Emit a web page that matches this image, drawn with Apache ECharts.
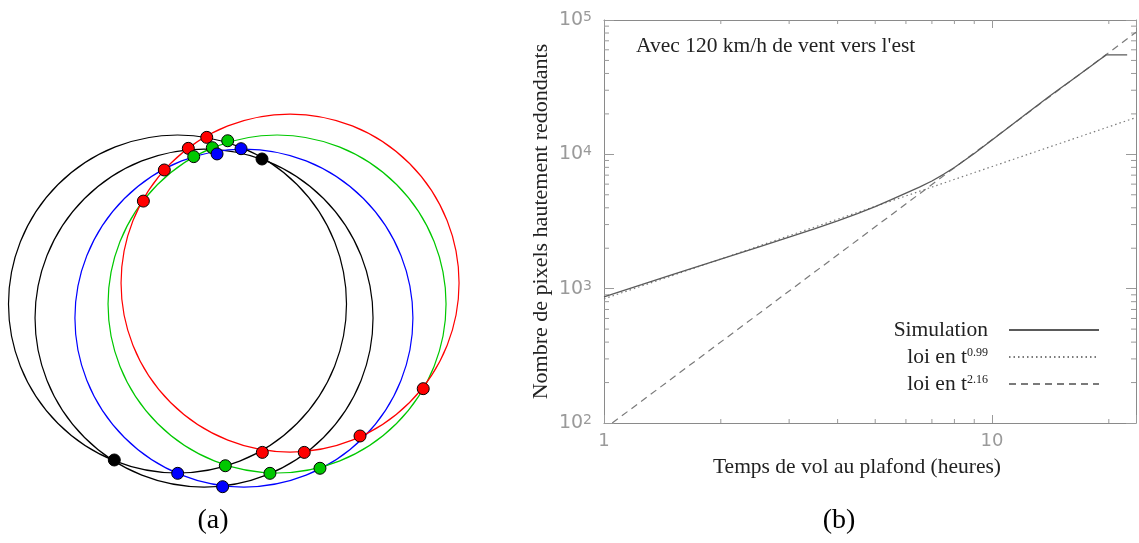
<!DOCTYPE html>
<html><head><meta charset="utf-8">
<script src="https://cdn.jsdelivr.net/npm/echarts@6/dist/echarts.min.js"></script>
<style>html,body{margin:0;padding:0;background:#fff}#c{width:1139px;height:543px}</style>
</head><body><div id="c"></div>
<script>
// ---------- Panel (a): circles (unit = circle radius) ----------
const circleCX = [0, 0.157, 0.393, 0.589, 0.666];
const circleCY = [0, -0.083, -0.083, 0, 0.124];
const circleR  = [1, 1, 1, 1, 1];
const circleColors = ['#000000', '#000000', '#0000ff', '#00c800', '#ff0000'];

const redDotsX   = [0.173, 0.064, -0.078, -0.202, 1.454, 1.080, 0.750, 0.502];
const redDotsY   = [0.986, 0.921, 0.793, 0.609, -0.501, -0.781, -0.878, -0.878];
const greenDotsX = [0.297, 0.206, 0.096, 0.283, 0.547, 0.843];
const greenDotsY = [0.966, 0.925, 0.872, -0.957, -1.002, -0.972];
const blueDotsX  = [0.234, 0.376, 0.001, 0.267];
const blueDotsY  = [0.888, 0.919, -1.002, -1.081];
const blackDotsX = [0.500, -0.374];
const blackDotsY = [0.858, -0.923];

// ---------- Panel (b): log-log curves ----------
const simTime   = [1, 1.25, 1.5, 2, 2.5, 3, 3.5, 4, 4.5, 5, 5.5, 6, 6.5, 7, 7.5, 8, 9, 10, 11, 12, 13, 14, 15, 16, 17, 18, 19, 19.7, 22.3];
const simPixels = [870, 1070, 1270, 1660, 2040, 2420, 2800, 3200, 3620, 4080, 4600, 5150, 5700, 6330, 7100, 7980, 10150, 12800, 15800, 19100, 22800, 26800, 31000, 35500, 40300, 45500, 51000, 55000, 55000];
const law099Time   = [1, 23.5];
const law099Pixels = [840, 18800];
const law216Time   = [1.05, 23.5];
const law216Pixels = [100, 81000];

const X_MIN = 1, X_MAX = 23.5, Y_MIN = 100, Y_MAX = 100000;
const xMinorTicks = [2, 3, 4, 5, 6, 7, 8, 9, 20];
const yMinorTicks = [200, 300, 400, 500, 600, 700, 800, 900, 2000, 3000, 4000, 5000, 6000, 7000, 8000, 9000, 20000, 30000, 40000, 50000, 60000, 70000, 80000, 90000];

const seriesNames = ['Simulation', 'loi en t^0.99', 'loi en t^2.16'];
const legendLabels = {'Simulation': 'Simulation', 'loi en t^0.99': 'loi en t{sup|0.99}', 'loi en t^2.16': 'loi en t{sup|2.16}'};

const zip = (a, b) => a.map((v, i) => [v, b[i]]);
const SERIF = '"Liberation Serif", "Times New Roman", serif';
const SANS = '"DejaVu Sans", sans-serif';
const TICK = '#9a9a9a';
const FRAME = '#8a8a8a';

function isDecade(v) { const l = Math.log10(v); return Math.abs(l - Math.round(l)) < 1e-6; }

const chart = echarts.init(document.getElementById('c'));
const dotSeries = (name, xs, ys, color) => ({
  type: 'scatter', name: name, xAxisIndex: 0, yAxisIndex: 0, data: zip(xs, ys),
  symbol: 'circle', symbolSize: 12, silent: true, z: 5,
  itemStyle: {color: color, borderColor: '#000', borderWidth: 1, opacity: 1}
});

chart.setOption({
  animation: false,
  grid: [
    {left: 8.5, top: 84.3, width: 473.2, height: 422.5},
    {left: 604, top: 20, width: 532, height: 403}
  ],
  xAxis: [
    {type: 'value', gridIndex: 0, min: -1, max: 1.8, show: false},
    {type: 'log', gridIndex: 1, min: X_MIN, max: X_MAX, position: 'bottom',
     axisLine: {show: true, lineStyle: {color: FRAME, width: 1}},
     axisTick: {show: true, inside: true, length: 8, lineStyle: {color: TICK}},
     splitLine: {show: false},
     axisLabel: {color: TICK, fontFamily: SANS, fontSize: 18, margin: 9,
                 formatter: v => isDecade(v) ? String(Math.round(v)) : ''},
     name: 'Temps de vol au plafond (heures)', nameLocation: 'middle', nameGap: 33,
     nameTextStyle: {fontFamily: SERIF, fontSize: 21.5, color: '#222', padding: [0, 26, 0, 0]}},
    {type: 'log', gridIndex: 1, min: X_MIN, max: X_MAX, position: 'top',
     axisLine: {show: true, lineStyle: {color: FRAME, width: 1}},
     axisTick: {show: true, inside: true, length: 8, lineStyle: {color: TICK}},
     splitLine: {show: false}, axisLabel: {show: false}}
  ],
  yAxis: [
    {type: 'value', gridIndex: 0, min: -1.2, max: 1.3, show: false},
    {type: 'log', gridIndex: 1, min: Y_MIN, max: Y_MAX, position: 'left',
     axisLine: {show: true, lineStyle: {color: FRAME, width: 1}},
     axisTick: {show: true, inside: true, length: 10, lineStyle: {color: TICK}},
     splitLine: {show: false},
     axisLabel: {color: TICK, fontFamily: SANS, fontSize: 19, margin: 12,
       formatter: v => isDecade(v) ? '10{sup|' + Math.round(Math.log10(v)) + '}' : '',
       rich: {sup: {color: TICK, fontFamily: SANS, fontSize: 14, lineHeight: 9, verticalAlign: 'top'}}},
     name: 'Nombre de pixels hautement redondants', nameLocation: 'middle', nameGap: 52,
     nameTextStyle: {fontFamily: SERIF, fontSize: 22, color: '#222'}},
    {type: 'log', gridIndex: 1, min: Y_MIN, max: Y_MAX, position: 'right',
     axisLine: {show: true, lineStyle: {color: FRAME, width: 1}},
     axisTick: {show: true, inside: true, length: 10, lineStyle: {color: TICK}},
     splitLine: {show: false}, axisLabel: {show: false}}
  ],
  legend: {
    data: seriesNames, orient: 'vertical', right: 39, top: 319, align: 'right', padding: 0,
    itemWidth: 90, itemHeight: 12, itemGap: 5, selectedMode: false,
    itemStyle: {opacity: 0, borderWidth: 0},
    formatter: name => legendLabels[name],
    textStyle: {fontFamily: SERIF, fontSize: 21.5, color: '#222', lineHeight: 21, padding: [0, 16, 0, 0],
      rich: {sup: {fontFamily: SERIF, fontSize: 12, color: '#222', lineHeight: 8, verticalAlign: 'top'}}}
  },
  graphic: [
    {type: 'text', x: 636, y: 46, silent: true,
     style: {text: "Avec 120 km/h de vent vers l'est", font: '21.5px ' + SERIF, fill: '#222', align: 'left', verticalAlign: 'middle'}},
    {type: 'text', x: 213, y: 521, silent: true,
     style: {text: '(a)', font: '28px ' + SERIF, fill: '#000', align: 'center', verticalAlign: 'middle'}},
    {type: 'text', x: 839, y: 521, silent: true,
     style: {text: '(b)', font: '28px ' + SERIF, fill: '#000', align: 'center', verticalAlign: 'middle'}}
  ],
  series: [
    {type: 'custom', name: 'cercles', xAxisIndex: 0, yAxisIndex: 0, silent: true, clip: false, z: 2,
     data: circleCX.map((cx, i) => [cx, circleCY[i], circleR[i]]),
     renderItem: (params, api) => {
       const c = api.coord([api.value(0), api.value(1)]);
       const r = api.size([api.value(2), api.value(2)])[0];
       return {type: 'circle', shape: {cx: c[0], cy: c[1], r: r},
               style: {fill: 'none', stroke: circleColors[params.dataIndex], lineWidth: 1.2}};
     }},
    dotSeries('rouge', redDotsX, redDotsY, '#ff0000'),
    dotSeries('vert', greenDotsX, greenDotsY, '#00c800'),
    dotSeries('bleu', blueDotsX, blueDotsY, '#0000ff'),
    dotSeries('noir', blackDotsX, blackDotsY, '#000000'),
    {type: 'line', name: seriesNames[0], xAxisIndex: 1, yAxisIndex: 1, data: zip(simTime, simPixels),
     showSymbol: false, symbol: 'none', smooth: false, z: 4,
     lineStyle: {color: '#5a5a5a', width: 1.3, type: 'solid'}, itemStyle: {color: '#5a5a5a'}},
    {type: 'line', name: seriesNames[1], xAxisIndex: 1, yAxisIndex: 1, data: zip(law099Time, law099Pixels),
     showSymbol: false, symbol: 'none', z: 3,
     lineStyle: {color: '#7a7a7a', width: 1.2, type: [1.5, 3]}, itemStyle: {color: '#7a7a7a'}},
    {type: 'line', name: seriesNames[2], xAxisIndex: 1, yAxisIndex: 1, data: zip(law216Time, law216Pixels),
     showSymbol: false, symbol: 'none', z: 3,
     lineStyle: {color: '#7a7a7a', width: 1.2, type: [7, 5]}, itemStyle: {color: '#7a7a7a'}},
    {type: 'custom', name: 'xMinor', xAxisIndex: 1, yAxisIndex: 1, silent: true, z: 1,
     data: xMinorTicks.map(v => [v, Y_MIN]),
     renderItem: (params, api) => {
       const b = api.coord([api.value(0), Y_MIN]);
       const t = api.coord([api.value(0), Y_MAX]);
       return {type: 'group', children: [
         {type: 'line', shape: {x1: b[0], y1: b[1], x2: b[0], y2: b[1] - 4}, style: {stroke: TICK, lineWidth: 1}},
         {type: 'line', shape: {x1: t[0], y1: t[1], x2: t[0], y2: t[1] + 4}, style: {stroke: TICK, lineWidth: 1}}
       ]};
     }},
    {type: 'custom', name: 'yMinor', xAxisIndex: 1, yAxisIndex: 1, silent: true, z: 1,
     data: yMinorTicks.map(v => [X_MIN, v]),
     renderItem: (params, api) => {
       const l = api.coord([X_MIN, api.value(1)]);
       const r = api.coord([X_MAX, api.value(1)]);
       return {type: 'group', children: [
         {type: 'line', shape: {x1: l[0], y1: l[1], x2: l[0] + 5, y2: l[1]}, style: {stroke: TICK, lineWidth: 1}},
         {type: 'line', shape: {x1: r[0], y1: r[1], x2: r[0] - 5, y2: r[1]}, style: {stroke: TICK, lineWidth: 1}}
       ]};
     }}
  ]
});
</script>
</body></html>
